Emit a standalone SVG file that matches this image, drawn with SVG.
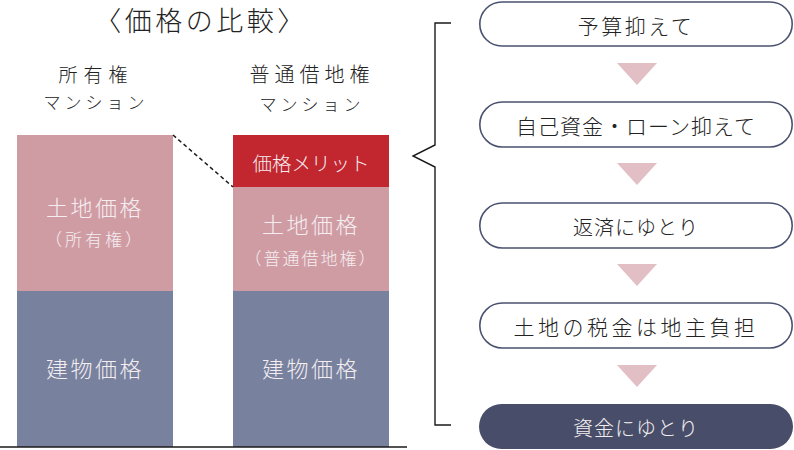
<svg xmlns="http://www.w3.org/2000/svg" width="794" height="450" viewBox="0 0 794 450">
<style>
text{font-family:"Noto Sans CJK JP","Noto Sans CJK SC",sans-serif;font-weight:300;text-anchor:middle;dominant-baseline:central}
.dark{fill:#222222}
.wt{fill:#f4eef0}
.pill{fill:#ffffff;stroke:#4b5270;stroke-width:1.6}
.tri{fill:#e2bfc5}
</style>
<rect width="794" height="450" fill="#ffffff"/>
<g id="title"><text class="dark" x="201" y="19" font-size="27" letter-spacing="3.5">〈価格の比較〉</text></g>
<g id="col-own-label">
<text class="dark" x="96" y="73" font-size="19" letter-spacing="6">所有権</text>
<text class="dark" x="96" y="101" font-size="17" letter-spacing="4">マンション</text>
</g>
<g id="col-lease-label">
<text class="dark" x="312" y="73" font-size="20" letter-spacing="5">普通借地権</text>
<text class="dark" x="312" y="103" font-size="17" letter-spacing="4">マンション</text>
</g>
<g id="bar-own">
<rect x="17" y="135" width="156" height="156" fill="#d09ca4"/>
<rect x="17" y="291" width="156" height="156" fill="#78819e"/>
<text class="wt" x="95" y="206" font-size="22" letter-spacing="2.5">土地価格</text>
<text class="wt" x="95" y="238" font-size="17" letter-spacing="3">（所有権）</text>
<text class="wt" x="95" y="367" font-size="22" letter-spacing="2.5">建物価格</text>
</g>
<g id="bar-lease">
<rect x="233" y="135" width="156" height="52" fill="#c2272f"/>
<rect x="233" y="187" width="156" height="104" fill="#d09ca4"/>
<rect x="233" y="291" width="156" height="156" fill="#78819e"/>
<text class="wt" x="311" y="162" font-size="19.5">価格メリット</text>
<text class="wt" x="311" y="223" font-size="22" letter-spacing="2.5">土地価格</text>
<text class="wt" x="311" y="257" font-size="17" letter-spacing="2">（普通借地権）</text>
<text class="wt" x="311" y="367" font-size="22" letter-spacing="2.5">建物価格</text>
</g>
<g id="connectors" fill="none" stroke="#1a1a1a">
<line x1="0" y1="447" x2="407" y2="447" stroke-width="1.6"/>
<line x1="173" y1="135" x2="233" y2="187" stroke-width="1.5" stroke-dasharray="4,3"/>
<polyline points="451,23 435,23 435,145 413,156 435,167 435,425 451,425" stroke-width="1.4"/>
<polygon class="tri" stroke="none" points="617,63 657,63 637,85"/>
<polygon class="tri" stroke="none" points="617,163 657,163 637,185"/>
<polygon class="tri" stroke="none" points="617,264 657,264 637,286"/>
<polygon class="tri" stroke="none" points="617,365 657,365 637,387"/>
</g>
<g id="step1"><rect class="pill" x="479.8" y="2" width="312.4" height="44" rx="22"/><text class="dark" x="636" y="25" font-size="21" letter-spacing="2.5">予算抑えて</text></g>
<g id="step2"><rect class="pill" x="479.8" y="102" width="312.4" height="45" rx="22.5"/><text class="dark" x="636" y="125" font-size="21" letter-spacing="1">自己資金・ローン抑えて</text></g>
<g id="step3"><rect class="pill" x="479.8" y="203" width="312.4" height="45" rx="22.5"/><text class="dark" x="636" y="226" font-size="20" letter-spacing="1">返済にゆとり</text></g>
<g id="step4"><rect class="pill" x="479.8" y="303" width="312.4" height="45" rx="22.5"/><text class="dark" x="636" y="326" font-size="21" letter-spacing="3.5">土地の税金は地主負担</text></g>
<g id="step5"><rect x="479" y="404" width="314" height="45" rx="22.5" fill="#484e69"/><text class="wt" x="636" y="427" font-size="20" letter-spacing="1">資金にゆとり</text></g>
</svg>
